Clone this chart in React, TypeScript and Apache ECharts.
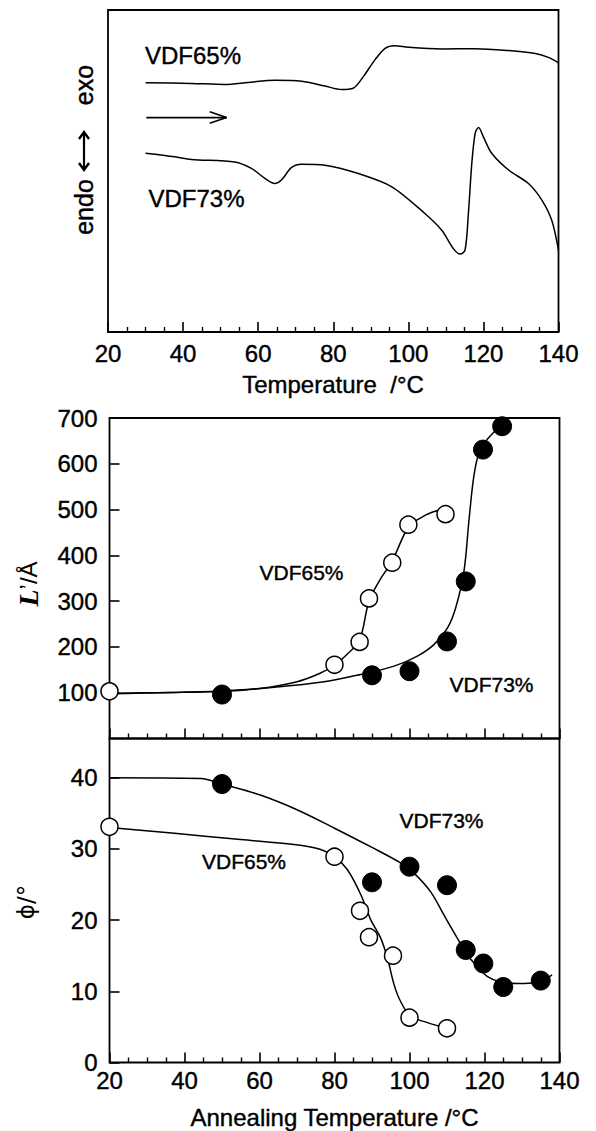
import React, { useEffect, useRef } from "react";
import * as echarts from "echarts";

// ---------- Data ----------
const X_MIN = 20;
const X_MAX = 140;
const X_INTERVAL = 20;

// Top panel: DSC traces (arbitrary heat-flow units, box = 0..100)
const dscVDF65: [number, number][] = [
  [30, 77.4], [42.2, 77.2], [51.1, 76.9], [57.3, 77.5], [64.4, 78.2], [71.6, 77.9],
  [77.8, 76.4], [82.2, 75.3], [85.3, 75.7], [88, 79.3], [91.1, 84.5], [93.8, 88.1],
  [96.4, 88.9], [100, 88.4], [108.9, 87.9], [117.8, 88.0], [126.7, 87.4], [133.8, 86.5],
  [137.3, 85.3], [140, 83.6],
];
const dscVDF73: [number, number][] = [
  [30, 55.5], [37.8, 54.4], [42.2, 53.6], [53.8, 52.8], [58.2, 50.8], [61.8, 47.7],
  [64.4, 46.1], [66.2, 47.2], [68.9, 51.1], [71.6, 52.1], [77.8, 51.8], [86.7, 49.2],
  [95.6, 45.1], [104.4, 36.8], [108.9, 31.6], [112, 25.9], [113.8, 24.2], [115.1, 25.4],
  [116, 36.8], [116.9, 52.3], [117.8, 61.7], [118.7, 63.5], [120, 60.6], [122.2, 55.5],
  [126.7, 50.3], [132, 46.1], [135.6, 40.9], [138.2, 34.7], [140, 25.4],
];
const heatingArrow: [number, number][] = [[30.2, 66.6], [51.6, 66.6]];
const heatingArrowHead: [number, number][] = [[47.1, 68.4], [51.6, 66.6], [47.1, 64.8]];

// Middle panel: L' (Å)
const L_MIN = 0;
const L_MAX = 700;
const L_INTERVAL = 100;
const L65points: [number, number][] = [
  [20, 103], [80, 161], [86.7, 211], [89.2, 306], [95.4, 384], [99.7, 467], [109.6, 490],
];
const L73points: [number, number][] = [
  [50, 96], [90, 138], [100, 147], [110, 212], [115, 343], [119.6, 631], [124.7, 682],
];
const L65fit: [number, number][] = [
  [20, 99], [40, 101], [50, 103], [60, 109], [70, 124], [76, 142], [80, 160], [83.5, 185],
  [86.7, 215], [89.2, 300], [92, 345], [95.4, 388], [99.7, 462], [103, 482], [106, 494],
  [109.2, 502],
];
const L73fit: [number, number][] = [
  [20, 98], [50, 104], [63.9, 112], [77.2, 124], [87, 140], [95.9, 158], [102.1, 180],
  [106.5, 205], [110.1, 241], [112.3, 285], [114.5, 364], [115.9, 480], [117.2, 575],
  [118.6, 625], [120.8, 654], [124.7, 687], [126.2, 700],
];

// Bottom panel: phi (deg)
const PHI_MIN = 0;
const PHI_MAX = 45.5;
const PHI_INTERVAL = 10;
const phi65points: [number, number][] = [
  [20, 33.1], [80, 28.9], [86.8, 21.3], [89.2, 17.6], [95.6, 15.0], [100, 6.3], [110, 4.8],
];
const phi73points: [number, number][] = [
  [50, 39.1], [90, 25.3], [100, 27.5], [110, 24.9], [115, 15.8], [119.7, 13.9], [125, 10.6],
  [135, 11.5],
];
const phi73fit: [number, number][] = [
  [20, 40], [44.4, 39.9], [50, 39.1], [60, 37.6], [70, 35.5], [80, 32.9], [90, 30.2],
  [97.7, 28.0], [101.2, 26.6], [105.6, 24.0], [109.2, 20.7], [112.7, 17.5], [115.4, 15.1],
  [118.1, 13.5], [120.7, 12.1], [124.3, 11.3], [128.7, 11.1], [134, 11.2], [138, 12.3],
];
const phi65fit: [number, number][] = [
  [20, 33.0], [37.3, 32.2], [55, 31.3], [69.2, 30.6], [76.3, 29.9], [80, 28.9], [83.4, 27.1],
  [87, 23.6], [89.7, 20.0], [92.3, 17.5], [94.1, 14.7], [95.9, 10.9], [97.6, 8.6],
  [100.3, 6.5], [104.8, 5.6], [109.9, 4.8],
];

// ---------- Styles ----------
const FONT = "Liberation Sans, Arial, Helvetica, sans-serif";
const BLACK = "#000";
const TICK_FONT = 24;

function xAxisFor(gridIndex: number, showLabels: boolean) {
  return {
    type: "value",
    gridIndex,
    min: X_MIN,
    max: X_MAX,
    interval: X_INTERVAL,
    axisLine: { show: false },
    axisTick: { show: true, inside: true, length: 10, lineStyle: { color: BLACK, width: 1.6 } },
    minorTick: { show: true, splitNumber: 4, length: 5, lineStyle: { color: BLACK, width: 1.4 } },
    splitLine: { show: false },
    axisLabel: {
      show: showLabels,
      color: BLACK,
      fontFamily: FONT,
      fontSize: TICK_FONT,
      textBorderColor: BLACK,
      textBorderWidth: 0.4,
      margin: gridIndex === 0 ? 9 : 6,
      showMinLabel: true,
      showMaxLabel: true,
    },
  };
}

function fitLine(data: [number, number][], xi: number, smooth: number = 0.35) {
  return {
    type: "line",
    xAxisIndex: xi,
    yAxisIndex: xi,
    data,
    showSymbol: false,
    symbol: "none",
    smooth,
    lineStyle: { color: BLACK, width: 1.5 },
    z: 2,
    silent: true,
  };
}

function points(data: [number, number][], xi: number, filled: boolean) {
  return {
    type: "scatter",
    xAxisIndex: xi,
    yAxisIndex: xi,
    data,
    symbol: "circle",
    symbolSize: filled ? 19 : 17,
    clip: false,
    itemStyle: filled
      ? { color: BLACK, borderColor: BLACK, borderWidth: 1, opacity: 1 }
      : { color: "#fff", borderColor: BLACK, borderWidth: 1.5, opacity: 1 },
    z: 5,
    silent: true,
  };
}

function label(text: string, x: number, y: number, size: number, align = "left") {
  return {
    type: "text",
    x,
    y,
    silent: true,
    style: {
      text,
      fill: BLACK,
      stroke: BLACK,
      lineWidth: 0.4,
      font: `${size}px ${FONT}`,
      align,
      verticalAlign: "middle",
    },
    z: 10,
  };
}

function vtext(text: string, x: number, y: number, size: number, family = FONT, stroke = 0.4) {
  return {
    type: "text",
    x,
    y,
    rotation: Math.PI / 2,
    silent: true,
    style: {
      text,
      fill: BLACK,
      stroke: stroke > 0 ? BLACK : null,
      lineWidth: stroke,
      font: `${size}px ${family}`,
      align: "center",
      verticalAlign: "middle",
    },
    z: 10,
  };
}

export default function App() {
  const ref = useRef<HTMLDivElement>(null);

  useEffect(() => {
    if (!ref.current) return;
    const chart = echarts.init(ref.current, undefined, { renderer: "svg" });

    const gridStyle = { show: true, borderColor: BLACK, borderWidth: 1.8, backgroundColor: "transparent" };

    const option: any = {
      animation: false,
      backgroundColor: "#fff",
      grid: [
        { left: 108, top: 10, width: 450.5, height: 322, ...gridStyle },
        { left: 109.5, top: 418, width: 450, height: 320.5, ...gridStyle },
        { left: 109.5, top: 738.5, width: 450, height: 324, ...gridStyle },
      ],
      xAxis: [xAxisFor(0, true), xAxisFor(1, false), xAxisFor(2, true)],
      yAxis: [
        { type: "value", gridIndex: 0, min: 0, max: 100, show: false },
        {
          type: "value",
          gridIndex: 1,
          min: L_MIN,
          max: L_MAX,
          interval: L_INTERVAL,
          axisLine: { show: false },
          axisTick: { show: true, inside: true, length: 10, lineStyle: { color: BLACK, width: 1.6 } },
          splitLine: { show: false },
          axisLabel: {
            color: BLACK,
            fontFamily: FONT,
            fontSize: TICK_FONT,
            textBorderColor: BLACK,
            textBorderWidth: 0.4,
            margin: 12,
            showMinLabel: false,
            formatter: (v: number) => (v === 0 ? "" : String(v)),
          },
        },
        {
          type: "value",
          gridIndex: 2,
          min: PHI_MIN,
          max: PHI_MAX,
          interval: PHI_INTERVAL,
          axisLine: { show: false },
          axisTick: { show: true, inside: true, length: 10, lineStyle: { color: BLACK, width: 1.6 } },
          splitLine: { show: false },
          axisLabel: {
            color: BLACK,
            fontFamily: FONT,
            fontSize: TICK_FONT,
            textBorderColor: BLACK,
            textBorderWidth: 0.4,
            margin: 12,
            showMaxLabel: false,
            formatter: (v: number) => (v % 10 === 0 ? String(v) : ""),
          },
        },
      ],
      series: [
        // top DSC
        fitLine(dscVDF65, 0, 0.3),
        fitLine(dscVDF73, 0, 0.3),
        { ...fitLine(heatingArrow, 0, 0), lineStyle: { color: BLACK, width: 1.8 } },
        { ...fitLine(heatingArrowHead, 0, 0), lineStyle: { color: BLACK, width: 1.6 } },
        // middle L'
        fitLine(L65fit, 1),
        fitLine(L73fit, 1),
        points(L65points, 1, false),
        points(L73points, 1, true),
        // bottom phi
        fitLine(phi73fit, 2),
        fitLine(phi65fit, 2),
        points(phi65points, 2, false),
        points(phi73points, 2, true),
      ],
      graphic: [
        // top panel texts
        label("VDF65%", 145, 55, 24),
        label("VDF73%", 148.5, 198.5, 24),
        label("Temperature  /°C", 333, 384, 24, "center"),
        vtext("endo", 84, 207, 25),
        vtext("exo", 84, 85, 25),
        // double-headed arrow between endo and exo
        { type: "line", silent: true, shape: { x1: 84, y1: 133, x2: 84, y2: 169 }, style: { stroke: BLACK, lineWidth: 2.2 } },
        { type: "polyline", silent: true, shape: { points: [[79, 139], [84, 132], [89, 139]] }, style: { stroke: BLACK, lineWidth: 2.4, fill: null } },
        { type: "polyline", silent: true, shape: { points: [[79, 163], [84, 170], [89, 163]] }, style: { stroke: BLACK, lineWidth: 2.4, fill: null } },
        // middle panel texts
        label("VDF65%", 259.5, 572.5, 21),
        label("VDF73%", 449.5, 684, 21),
        {
          type: "text",
          x: 28,
          y: 584,
          rotation: Math.PI / 2,
          silent: true,
          style: {
            text: "{i|L}{r|’/Å}",
            fill: BLACK,
            align: "center",
            verticalAlign: "middle",
            rich: {
              i: { fontFamily: "Liberation Serif, Times New Roman, serif", fontStyle: "italic", fontWeight: "bold", fontSize: 28, fill: BLACK },
              r: { fontFamily: FONT, fontSize: 24, fill: BLACK },
            },
          },
        },
        // bottom panel texts
        label("VDF73%", 399.5, 820, 21),
        label("VDF65%", 202, 861, 21),
        vtext("ϕ/°", 26, 902, 23, "DejaVu Sans, sans-serif", 0),
        label("Annealing Temperature /°C", 334.5, 1117, 24, "center"),
      ],
    };

    chart.setOption(option);
    return () => chart.dispose();
  }, []);

  return (
    <div
      ref={ref}
      style={{ position: "absolute", left: 0, top: 0, width: 596, height: 1131, background: "#fff" }}
    />
  );
}
